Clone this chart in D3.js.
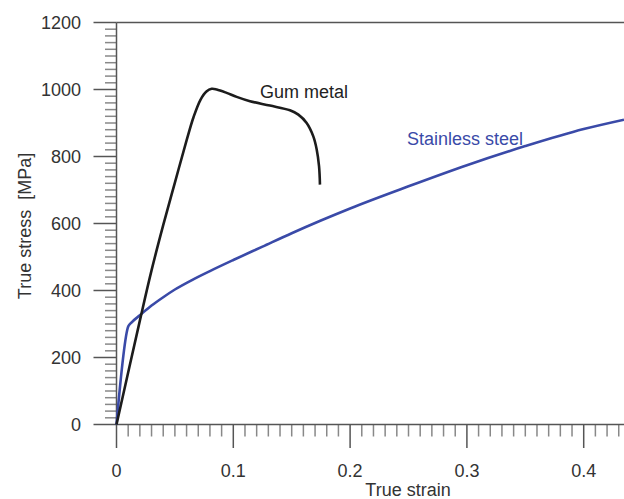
<!DOCTYPE html>
<html>
<head>
<meta charset="utf-8">
<script src="https://cdn.jsdelivr.net/npm/d3@7"></script>
<style>
  body { margin: 0; background: #fff; }
  text { font-family: "Liberation Sans", Arial, sans-serif; fill: #333; }
</style>
</head>
<body>
<svg id="chart" width="624" height="499"></svg>
<script>
// true strain / true stress (MPa)
var gumStrain = [0, 0.02, 0.03, 0.04, 0.05, 0.06, 0.066, 0.072, 0.077, 0.0815, 0.0858, 0.0943, 0.1029, 0.1143, 0.1314, 0.1485, 0.1557, 0.1628, 0.1685, 0.1714, 0.1734, 0.1742];
var gumStress = [0, 310, 460, 595, 722, 848, 918, 970, 994, 1002, 1000, 990, 978, 965, 952, 938, 925, 900, 860, 821, 771, 716];

var steelStrain = [0, 0.0101, 0.013, 0.02, 0.03, 0.04, 0.05, 0.065, 0.08, 0.1, 0.125, 0.15, 0.175, 0.2, 0.25, 0.3, 0.35, 0.4, 0.4345];
var steelStress = [0, 293, 305, 326, 355, 380, 403, 432, 458, 491, 531, 571, 609, 645, 711, 774, 831, 882, 910];

var xTicks = [0, 0.1, 0.2, 0.3, 0.4];
var yTicks = [0, 200, 400, 600, 800, 1000, 1200];

var svg = d3.select('#chart');

var x = d3.scaleLinear().domain([0, 0.4345]).range([116.5, 624]);
var y = d3.scaleLinear().domain([0, 1200]).range([424.5, 22.5]);

var axisCol = '#555';

// minor + major ticks, y
var yMinor = d3.range(0, 1201, 20);
svg.append('g').selectAll('line')
    .data(yMinor)
    .enter()
    .append('line')
    .attr('x1', function(d) { return (d % 200 === 0) ? 93.5 : 105; })
    .attr('x2', 116.5)
    .attr('y1', function(d) { return y(d); })
    .attr('y2', function(d) { return y(d); })
    .attr('stroke', function(d) { return (d % 200 === 0) ? axisCol : '#888'; })
    .attr('stroke-width', 1.5);

// minor + major ticks, x
var xMinor = d3.range(0, 44).map(function(i) { return i / 100; });
svg.append('g').selectAll('line')
    .data(xMinor)
    .enter()
    .append('line')
    .attr('x1', function(d) { return x(d); })
    .attr('x2', function(d) { return x(d); })
    .attr('y1', 424.5)
    .attr('y2', function(d, i) { return (i % 10 === 0) ? 448 : 436.5; })
    .attr('stroke', function(d, i) { return (i % 10 === 0) ? axisCol : '#888'; })
    .attr('stroke-width', 1.5);

// axis lines + top frame
svg.append('line')
    .attr('x1', x(0)).attr('x2', x(0))
    .attr('y1', y(1200)).attr('y2', y(0))
    .attr('stroke', axisCol).attr('stroke-width', 1.5);
svg.append('line')
    .attr('x1', x(0)).attr('x2', 624)
    .attr('y1', y(0)).attr('y2', y(0))
    .attr('stroke', axisCol).attr('stroke-width', 1.5);
svg.append('line')
    .attr('x1', x(0)).attr('x2', 624)
    .attr('y1', y(1200)).attr('y2', y(1200))
    .attr('stroke', axisCol).attr('stroke-width', 1.5);

// tick labels
svg.append('g').selectAll('text')
    .data(yTicks)
    .enter()
    .append('text')
    .attr('x', 81)
    .attr('y', function(d) { return y(d) + 6.5; })
    .attr('text-anchor', 'end')
    .style('font-size', '18px')
    .text(function(d) { return d; });

svg.append('g').selectAll('text')
    .data(xTicks)
    .enter()
    .append('text')
    .attr('x', function(d) { return x(d); })
    .attr('y', 477)
    .attr('text-anchor', 'middle')
    .style('font-size', '18px')
    .text(function(d) { return d === 0 ? '0' : d.toFixed(1); });

// axis titles
svg.append('text')
    .attr('x', 408)
    .attr('y', 496)
    .attr('text-anchor', 'middle')
    .style('font-size', '18px')
    .text('True strain');

svg.append('text')
    .attr('transform', 'translate(31,226) rotate(-90)')
    .attr('text-anchor', 'middle')
    .style('font-size', '18px')
    .style('white-space', 'pre')
    .text('True stress  [MPa]');

// curves
var line = d3.line()
    .x(function(d) { return x(d[0]); })
    .y(function(d) { return y(d[1]); })
    .curve(d3.curveMonotoneX);

var gum = gumStrain.map(function(s, i) { return [s, gumStress[i]]; });
var steel = steelStrain.map(function(s, i) { return [s, steelStress[i]]; });

svg.append('path')
    .datum(steel)
    .attr('d', line)
    .attr('fill', 'none')
    .attr('stroke', '#3a4aa8')
    .attr('stroke-width', 2.6);

svg.append('path')
    .datum(gum)
    .attr('d', d3.line()
        .x(function(d) { return x(d[0]); })
        .y(function(d) { return y(d[1]); })
        .curve(d3.curveCatmullRom))
    .attr('fill', 'none')
    .attr('stroke', '#1c1c1c')
    .attr('stroke-width', 2.6);

// curve labels
svg.append('text')
    .attr('x', 260)
    .attr('y', 98)
    .style('font-size', '18px')
    .style('fill', '#222')
    .text('Gum metal');

svg.append('text')
    .attr('x', 407)
    .attr('y', 145)
    .style('font-size', '18px')
    .style('fill', '#3a4aa8')
    .text('Stainless steel');
</script>
</body>
</html>
